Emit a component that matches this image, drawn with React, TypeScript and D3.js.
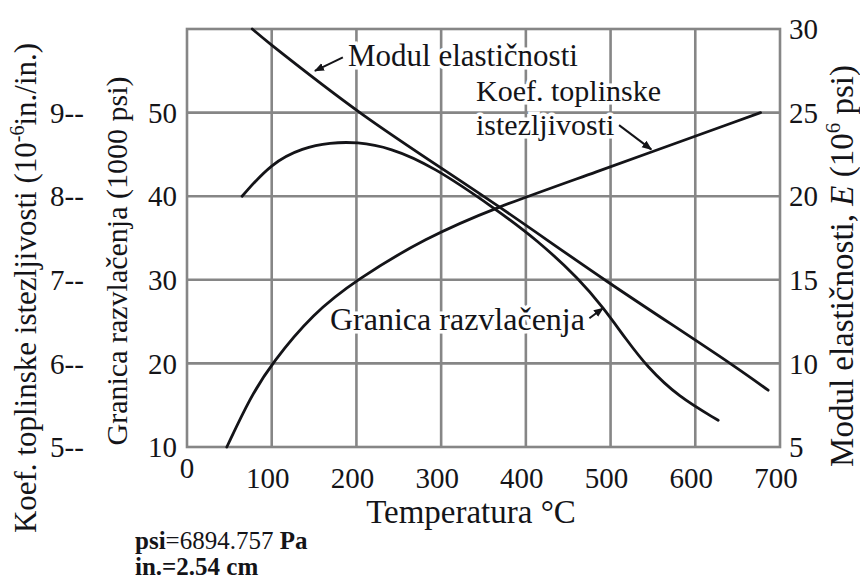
import { useMemo } from "react";
import * as d3 from "d3";

// temperature axis
const tempTicks = [0, 100, 200, 300, 400, 500, 600, 700];
const strengthTicks = [10, 20, 30, 40, 50];
const expansionTicks = [5, 6, 7, 8, 9];
const modulusTicks = [5, 10, 15, 20, 25, 30];

// Granica razvlačenja (1000 psi)
const yieldTemp = [65, 100, 137, 169, 200, 240, 290, 364, 413, 464, 491, 519, 543, 580, 627];
const yieldValue = [40, 44.0, 45.8, 46.4, 46.5, 45.8, 43.6, 38.5, 34.8, 30.0, 26.7, 22.8, 19.6, 16.0, 13.2];

// Koef. toplinske istezljivosti (10^-6 in./in.)
const expTemp = [47, 75, 100, 149, 200, 281, 366, 464, 677];
const expValue = [5.0, 5.6, 6.0, 6.6, 7.0, 7.5, 7.87, 8.22, 9.0];

// Modul elastičnosti E (10^6 psi)
const modTemp = [77, 100, 207, 366, 496, 641, 686];
const modValue = [30, 29.04, 24.9, 19.45, 14.9, 10.0, 8.4];

const FONT = "'Liberation Serif', 'Times New Roman', serif";
const INK = "#141418";
const GRID = "#868686";

export default function App() {
  const width = 860;
  const height = 581;
  const box = { left: 187, right: 780, top: 29, bottom: 447 };

  const x = d3.scaleLinear().domain([0, 700]).range([box.left, box.right]);
  const yStrength = d3.scaleLinear().domain([10, 60]).range([box.bottom, box.top]);
  const yExp = d3.scaleLinear().domain([5, 10]).range([box.bottom, box.top]);
  const yMod = d3.scaleLinear().domain([5, 30]).range([box.bottom, box.top]);

  const paths = useMemo(() => {
    const mk = (
      ts: number[],
      vs: number[],
      y: d3.ScaleLinear<number, number>,
      curve: d3.CurveFactory
    ) =>
      d3
        .line<number>()
        .x((_, i) => x(ts[i]))
        .y((v) => y(v))
        .curve(curve)(vs) || "";
    return {
      yieldP: mk(yieldTemp, yieldValue, yStrength, d3.curveBasis),
      expP: mk(expTemp, expValue, yExp, d3.curveBasis),
      modP: mk(modTemp, modValue, yMod, d3.curveCatmullRom.alpha(0.5)),
    };
  }, []);

  const halo = { stroke: "#fff", strokeWidth: 7, paintOrder: "stroke" as const };

  return (
    <svg
      width={width}
      height={height}
      style={{ position: "absolute", left: 0, top: 0, background: "#fff" }}
      fontFamily={FONT}
    >
      <defs>
        <marker
          id="tip"
          viewBox="0 0 10 10"
          refX={9}
          refY={5}
          markerWidth={5}
          markerHeight={5}
          orient="auto"
        >
          <path d="M0,1 L10,5 L0,9 z" fill={INK} />
        </marker>
      </defs>
      <rect width={width} height={height} fill="#fff" />

      {/* grid */}
      <g stroke={GRID} strokeWidth={2.6}>
        {tempTicks.slice(1, -1).map((t) => (
          <line key={t} x1={x(t)} x2={x(t)} y1={box.top} y2={box.bottom} />
        ))}
        {strengthTicks.slice(1).map((v) => (
          <line key={v} x1={box.left} x2={box.right} y1={yStrength(v)} y2={yStrength(v)} />
        ))}
        <rect
          x={box.left}
          y={box.top}
          width={box.right - box.left}
          height={box.bottom - box.top}
          fill="none"
        />
      </g>

      {/* curves */}
      <g fill="none" stroke={INK} strokeWidth={2.8} strokeLinecap="round">
        <path d={paths.modP} />
        <path d={paths.yieldP} />
        <path d={paths.expP} />
      </g>

      {/* labels on the plot */}
      <g fontSize={31} fill={INK}>
        <text x={348} y={66} {...halo}>Modul elastičnosti</text>
        <text x={476} y={101} fontSize={30} {...halo}>Koef. toplinske</text>
        <text x={476} y={135} fontSize={30} {...halo}>istezljivosti</text>
        <text x={330} y={330} fontSize={32} {...halo}>Granica razvlačenja</text>
      </g>
      <g stroke={INK} strokeWidth={2} markerEnd="url(#tip)">
        <line x1={x(184)} y1={yMod(28.3)} x2={x(151)} y2={yMod(27.5)} />
        <line x1={x(510)} y1={yExp(8.85)} x2={x(548)} y2={yExp(8.56)} />
        <line x1={x(475)} y1={yStrength(25.4)} x2={x(491)} y2={yStrength(26.6)} />
      </g>

      {/* left: strength ticks */}
      <g fontSize={29} fill={INK} textAnchor="end">
        {strengthTicks.map((v) => (
          <text key={v} x={177} y={yStrength(v)} dy="0.35em">
            {v}
          </text>
        ))}
      </g>
      {/* left-most: expansion ticks */}
      <g fontSize={29} fill={INK}>
        {expansionTicks.map((v) => (
          <text key={v} x={50} y={yExp(v)} dy="0.35em">
            {v}--
          </text>
        ))}
      </g>
      {/* right: modulus ticks */}
      <g fontSize={29} fill={INK}>
        {modulusTicks.map((v) => (
          <text key={v} x={789} y={yMod(v)} dy="0.35em">
            {v}
          </text>
        ))}
      </g>
      {/* bottom ticks */}
      <g fontSize={29} fill={INK} textAnchor="middle">
        {tempTicks.map((t) => (
          <text key={t} x={x(t) - (t === 0 ? 0 : 4)} y={t === 0 ? 478 : 488}>
            {t}
          </text>
        ))}
      </g>

      {/* axis titles */}
      <text
        transform="translate(36,288) rotate(-90)"
        textAnchor="middle"
        fontSize={31}
        fill={INK}
      >
        Koef. toplinske istezljivosti (10
        <tspan fontSize={20} dy={-12}>-6</tspan>
        <tspan dy={12}>in./in.)</tspan>
      </text>
      <text
        transform="translate(127,261) rotate(-90)"
        textAnchor="middle"
        fontSize={30}
        fill={INK}
      >
        Granica razvlačenja (1000 psi)
      </text>
      <text
        transform="translate(853,266) rotate(-90)"
        textAnchor="middle"
        fontSize={33}
        fill={INK}
      >
        Modul elastičnosti, <tspan fontStyle="italic">E</tspan> (10
        <tspan fontSize={21} dy={-13}>6</tspan>
        <tspan dy={13}> psi)</tspan>
      </text>
      <text x={471} y={523} textAnchor="middle" fontSize={33} fill={INK}>
        Temperatura °C
      </text>

      {/* unit notes */}
      <text x={135} y={549} fontSize={25} fill={INK}>
        <tspan fontWeight="bold">psi</tspan>=6894.757 <tspan fontWeight="bold">Pa</tspan>
      </text>
      <text x={135} y={575} fontSize={25} fill={INK} fontWeight="bold">
        in.=2.54 cm
      </text>
    </svg>
  );
}
